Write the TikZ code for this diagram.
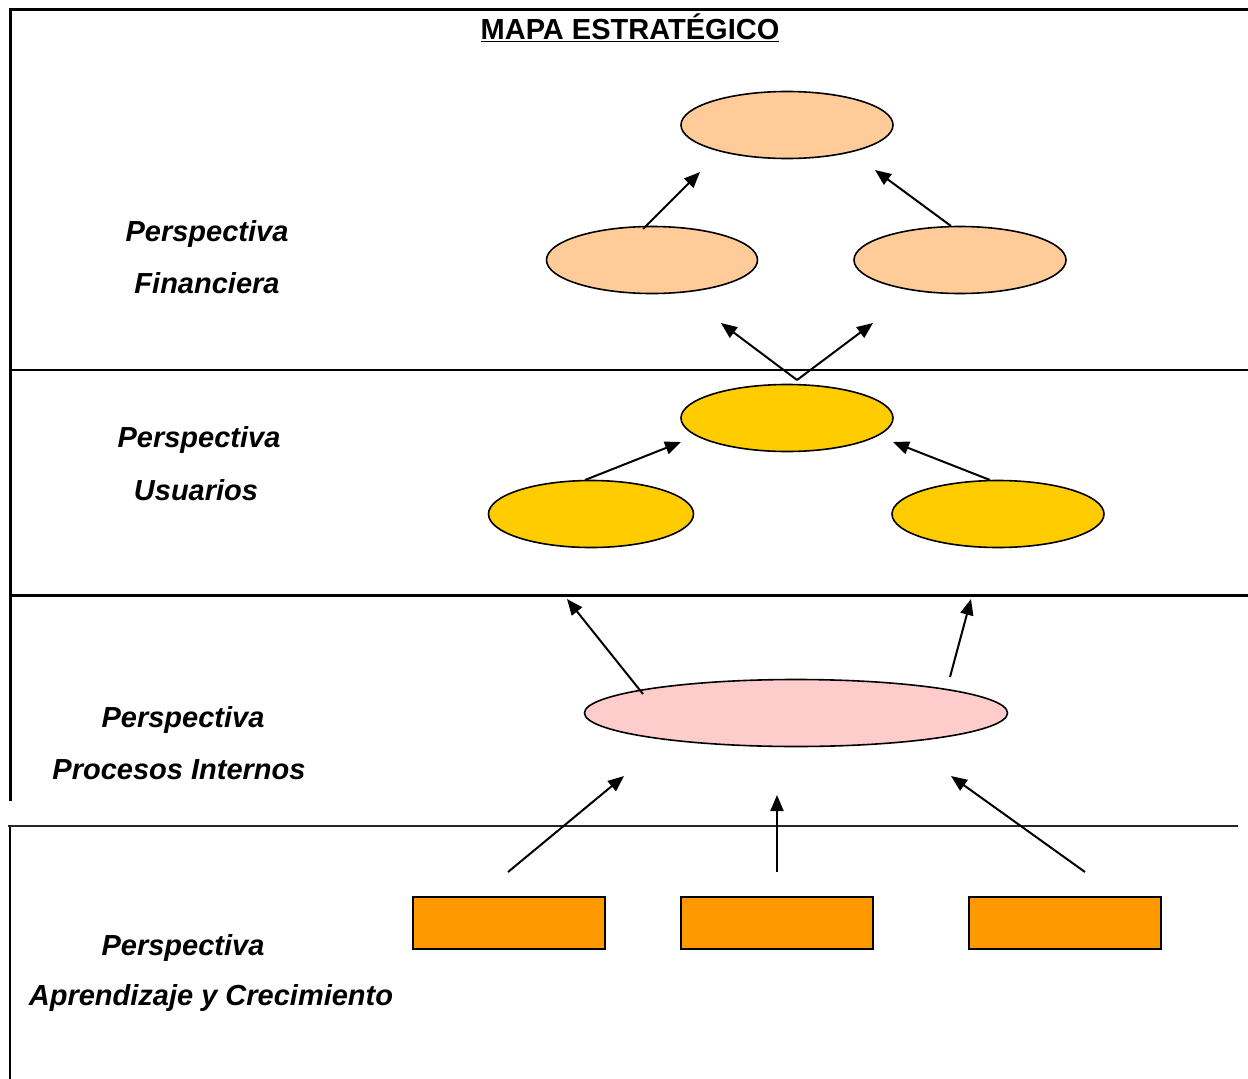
\documentclass[tikz,border=0pt]{standalone}
\usepackage{fontspec}
\setmainfont{Liberation Sans}
\usetikzlibrary{shapes.geometric,arrows.meta}
\definecolor{finc}{HTML}{FFCC99}
\definecolor{usuc}{HTML}{FFCC00}
\definecolor{proc}{HTML}{FFCCCC}
\definecolor{aprc}{HTML}{FF9900}
\begin{document}
\begin{tikzpicture}[x=1pt,y=-1pt,
  lbl/.style={font=\fontsize{29}{35}\selectfont\bfseries\itshape, inner sep=0pt},
  ttl/.style={font=\fontsize{29}{35}\selectfont\bfseries, inner sep=0pt},
  ell/.style={ellipse, draw, line width=1.6pt, inner sep=0pt, minimum height=67pt},
  fin/.style={ell, fill=finc, minimum width=212pt},
  usu/.style={ell, fill=usuc, minimum width=210pt},
  pro/.style={ell, fill=proc, minimum width=423pt},
  apr/.style={draw, line width=1.6pt, fill=aprc, minimum width=192pt, minimum height=52pt, inner sep=0pt},
  arr/.style={-{Triangle[length=16pt,width=13pt]}, line width=2pt}
]
\useasboundingbox (0,0) rectangle (1248,1079);
\fill[white] (0,0) rectangle (1248,1079);
% frame
\draw[line width=3pt] (1248,9) -- (10,9) -- (10,801);
\draw[line width=2.4pt] (10,370) -- (1248,370);
\draw[line width=3pt] (10,595) -- (1248,595);
\draw[line width=2pt, black!85] (8,826) -- (1238,826);
\draw[line width=2.4pt] (10,827) -- (10,1079);
% title
\node[ttl] (title) at (630,28) {\underline{MAPA ESTRATÉGICO}};
% labels
\node[lbl] (l1a) at (207,234) {Perspectiva};
\node[lbl] (l1b) at (207,283) {Financiera};
\node[lbl] (l2a) at (199,440) {Perspectiva};
\node[lbl] (l2b) at (196,490) {Usuarios};
\node[lbl] (l3a) at (183,720) {Perspectiva};
\node[lbl] (l3b) at (179,770) {Procesos Internos};
\node[lbl] (l4a) at (183,948) {Perspectiva};
\node[lbl] (l4b) at (211,998) {Aprendizaje y Crecimiento};
% shapes
\node[fin] (ft) at (787,125) {};
\node[fin, minimum width=211pt] (fl) at (652,260) {};
\node[fin] (fr) at (960,260) {};
\node[usu, minimum width=212pt] (ut) at (787,418) {};
\node[usu, minimum width=205pt] (ul) at (591,514) {};
\node[usu, minimum width=212pt] (ur) at (998,514) {};
\node[pro] (pp) at (796,713) {};
\node[apr] (r1) at (509,923) {};
\node[apr] (r2) at (777,923) {};
\node[apr] (r3) at (1065,923) {};
% arrow end points
\coordinate (a1s) at (643,229); \coordinate (a1e) at (700,172);
\coordinate (a2s) at (951,226); \coordinate (a2e) at (875,170);
\coordinate (a3s) at (797,380); \coordinate (a3e) at (721,323);
\coordinate (a4e) at (873,323);
\coordinate (a5s) at (585,480); \coordinate (a5e) at (681,442);
\coordinate (a6s) at (990,480); \coordinate (a6e) at (893,442);
\coordinate (a7s) at (643,694); \coordinate (a7e) at (567,599);
\coordinate (a8s) at (950,677); \coordinate (a8e) at (971,599);
\coordinate (a9s) at (508,872); \coordinate (a9e) at (624,776);
\coordinate (a10s) at (777,872); \coordinate (a10e) at (777,795);
\coordinate (a11s) at (1085,872); \coordinate (a11e) at (951,776);
% arrows
\draw[arr] (a1s) -- (a1e);
\draw[arr] (a2s) -- (a2e);
\draw[arr] (a3s) -- (a3e);
\draw[arr] (a3s) -- (a4e);
\draw[arr] (a5s) -- (a5e);
\draw[arr] (a6s) -- (a6e);
\draw[arr] (a7s) -- (a7e);
\draw[arr] (a8s) -- (a8e);
\draw[arr] (a9s) -- (a9e);
\draw[arr] (a10s) -- (a10e);
\draw[arr] (a11s) -- (a11e);
\end{tikzpicture}
\end{document}
